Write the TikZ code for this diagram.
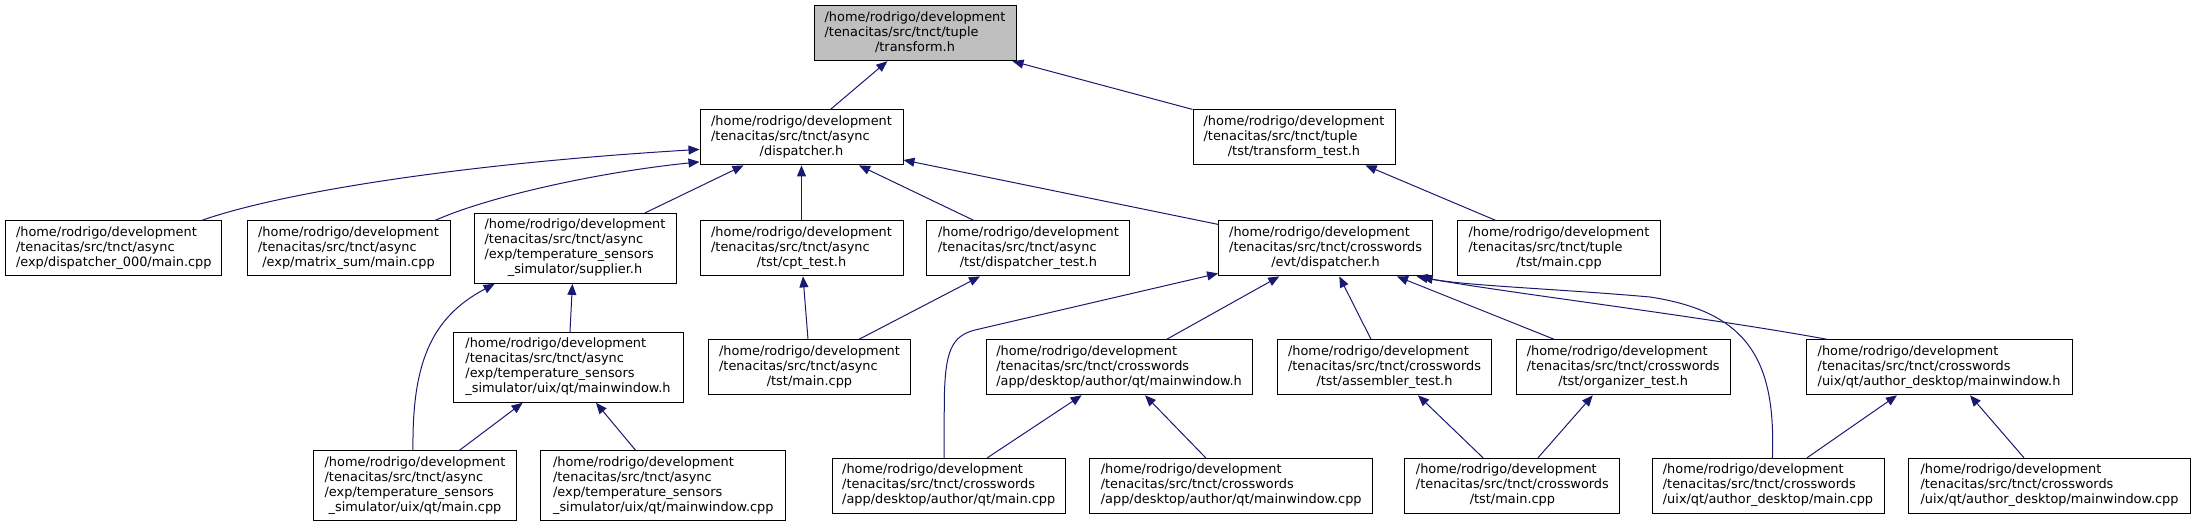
\documentclass[tikz,border=0pt]{standalone}
\usepackage{fontspec}
\newfontfamily\dejavu{DejaVu Sans}
\usetikzlibrary{arrows.meta}
\definecolor{midnight}{HTML}{191970}
\definecolor{rootgray}{HTML}{BFBFBF}
\newcommand\lbl[2]{\begin{tabular}{@{}l@{}}#1\\\multicolumn{1}{@{}c@{}}{#2}\end{tabular}}
\newcommand\hr{/home/rodrigo/development}
\newcommand\tn{/tenacitas/src/tnct}
\tikzset{
  box/.style={draw=black, line width=1pt, fill=white, inner sep=0pt, anchor=center,
    font=\dejavu\fontsize{12.9}{15}\selectfont, minimum height=55pt},
  tall/.style={minimum height=70pt},
  rootbox/.style={box, fill=rootgray},
  edge/.style={draw=midnight, line width=1pt, -{Triangle[length=11pt,width=9pt]}},
}
\begin{document}
\begin{tikzpicture}[x=1pt,y=-1pt]
\useasboundingbox (0,0) rectangle (2196,527);
% row 1
\node[rootbox, minimum width=202pt] (T) at (915,33.2) {\lbl{\hr\\\tn/tuple}{/transform.h}};
% row 2
\node[box, minimum width=203pt] (AD) at (801.5,137.4) {\lbl{\hr\\\tn/async}{/dispatcher.h}};
\node[box, minimum width=202pt] (TT) at (1294,137.4) {\lbl{\hr\\\tn/tuple}{/tst/transform\_test.h}};
% row 3
\node[box, minimum width=216pt] (D0) at (113.8,248.4) {\lbl{\hr\\\tn/async}{/exp/dispatcher\_000/main.cpp}};
\node[box, minimum width=203pt] (MS) at (348.5,248.4) {\lbl{\hr\\\tn/async}{/exp/matrix\_sum/main.cpp}};
\node[box, tall, minimum width=202pt] (SUP) at (575,248.4) {\lbl{\hr\\\tn/async\\/exp/temperature\_sensors}{\_simulator/supplier.h}};
\node[box, minimum width=203pt] (CPT) at (801.5,248.4) {\lbl{\hr\\\tn/async}{/tst/cpt\_test.h}};
\node[box, minimum width=203pt] (DT) at (1028.4,248.4) {\lbl{\hr\\\tn/async}{/tst/dispatcher\_test.h}};
\node[box, minimum width=214pt] (ED) at (1325.6,248.4) {\lbl{\hr\\\tn/crosswords}{/evt/dispatcher.h}};
\node[box, minimum width=203pt] (TM) at (1559,248.4) {\lbl{\hr\\\tn/tuple}{/tst/main.cpp}};
% row 4
\node[box, tall, minimum width=230pt] (TMW) at (568,367.3) {\lbl{\hr\\\tn/async\\/exp/temperature\_sensors}{\_simulator/uix/qt/mainwindow.h}};
\node[box, minimum width=202pt] (AM) at (809.5,367.3) {\lbl{\hr\\\tn/async}{/tst/main.cpp}};
\node[box, minimum width=266pt] (AMW) at (1119,367.3) {\lbl{\hr\\\tn/crosswords}{/app/desktop/author/qt/mainwindow.h}};
\node[box, minimum width=214pt] (AT) at (1384.5,367.3) {\lbl{\hr\\\tn/crosswords}{/tst/assembler\_test.h}};
\node[box, minimum width=214pt] (OT) at (1623.2,367.3) {\lbl{\hr\\\tn/crosswords}{/tst/organizer\_test.h}};
\node[box, minimum width=266pt] (UMW) at (1939,367.3) {\lbl{\hr\\\tn/crosswords}{/uix/qt/author\_desktop/mainwindow.h}};
% row 5
\node[box, tall, minimum width=203pt] (TMC) at (415,485.8) {\lbl{\hr\\\tn/async\\/exp/temperature\_sensors}{\_simulator/uix/qt/main.cpp}};
\node[box, tall, minimum width=245pt] (TMWC) at (663.3,485.8) {\lbl{\hr\\\tn/async\\/exp/temperature\_sensors}{\_simulator/uix/qt/mainwindow.cpp}};
\node[box, minimum width=233pt] (AMC) at (948.7,485.8) {\lbl{\hr\\\tn/crosswords}{/app/desktop/author/qt/main.cpp}};
\node[box, minimum width=283pt] (AMWC) at (1231.2,485.8) {\lbl{\hr\\\tn/crosswords}{/app/desktop/author/qt/mainwindow.cpp}};
\node[box, minimum width=215pt] (CTM) at (1512.4,485.8) {\lbl{\hr\\\tn/crosswords}{/tst/main.cpp}};
\node[box, minimum width=232pt] (UMC) at (1768,485.8) {\lbl{\hr\\\tn/crosswords}{/uix/qt/author\_desktop/main.cpp}};
\node[box, minimum width=282pt] (UMWC) at (2049.5,485.8) {\lbl{\hr\\\tn/crosswords}{/uix/qt/author\_desktop/mainwindow.cpp}};
% edges
\draw[edge] ([xshift=29pt]AD.north) -- ([xshift=-27.7pt]T.south);
\draw[edge] (TT.north west) -- ([xshift=-4pt]T.south east);
\draw[edge] ([xshift=88pt]D0.north) .. controls (270,196) and (440,165) .. ([yshift=-12pt]AD.west);
\draw[edge] ([xshift=86.5pt]MS.north) .. controls (490,196) and (600,172) .. ([yshift=-24.5pt]AD.west);
\draw[edge] ([xshift=70pt]SUP.north) -- ([xshift=-58pt]AD.south);
\draw[edge] (CPT.north) -- (AD.south);
\draw[edge] ([xshift=-54.6pt]DT.north) -- ([xshift=57.5pt]AD.south);
\draw[edge] ([yshift=-4pt]ED.north west) -- ([yshift=-22.6pt]AD.east);
\draw[edge] ([xshift=-63.3pt]TM.north) -- ([xshift=71.6pt]TT.south);
\draw[edge] ([xshift=2pt]TMW.north) -- ([xshift=-2.6pt]SUP.south);
\draw[edge] ([xshift=-2pt]TMC.north) .. controls (412,365) and (430,318) .. ([xshift=-80.4pt]SUP.south);
\draw[edge] ([xshift=44.5pt]TMC.north) -- ([xshift=-45.4pt]TMW.south);
\draw[edge] ([xshift=-27.7pt]TMWC.north) -- ([xshift=28pt]TMW.south);
\draw[edge] ([xshift=-1.5pt]AM.north) -- ([xshift=1.5pt]CPT.south);
\draw[edge] ([xshift=49.5pt]AM.north) -- ([xshift=-48.4pt]DT.south);
\draw[edge] ([xshift=-4.7pt]AMC.north) -- (944.3,400) .. controls (945,350) and (952,336) .. (975,330) -- ([yshift=3pt]ED.south west);
\draw[edge] ([xshift=38.6pt]AMC.north) -- ([xshift=-37.3pt]AMW.south);
\draw[edge] ([xshift=-25.5pt]AMWC.north) -- ([xshift=26pt]AMW.south);
\draw[edge] ([xshift=47.7pt]AMW.north) -- ([xshift=-46.3pt]ED.south);
\draw[edge] ([xshift=-13.5pt]AT.north) -- ([xshift=13.7pt]ED.south);
\draw[edge] ([xshift=-69pt]OT.north) -- ([xshift=71.4pt]ED.south);
\draw[edge] ([xshift=-112pt]UMW.north) .. controls (1700,316) and (1500,292) .. ([xshift=91pt]ED.south);
\draw[edge] ([xshift=4.4pt]UMC.north) .. controls (1776,360) and (1748,312) .. (1650,297) .. controls (1560,289) and (1470,286) .. ([xshift=96pt,yshift=-1pt]ED.south);
\draw[edge] ([xshift=39pt]UMC.north) -- ([xshift=-42pt]UMW.south);
\draw[edge] ([xshift=-25.5pt]UMWC.north) -- ([xshift=31pt]UMW.south);
\draw[edge] ([xshift=-29.4pt]CTM.north) -- ([xshift=33.5pt]AT.south);
\draw[edge] ([xshift=25.6pt]CTM.north) -- ([xshift=-30.4pt]OT.south);
\end{tikzpicture}
\end{document}
